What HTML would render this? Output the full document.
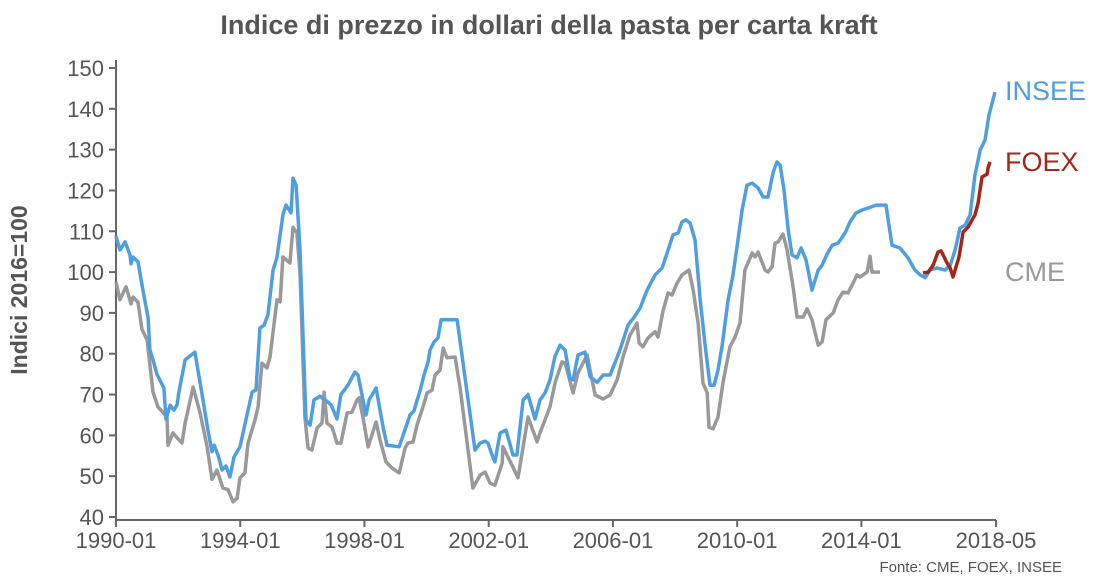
<!DOCTYPE html>
<html><head><meta charset="utf-8">
<style>
html,body{margin:0;padding:0;background:#fff;}
svg{display:block;font-family:"Liberation Sans",sans-serif;}
</style></head>
<body>
<svg id="chart" width="1099" height="586" viewBox="0 0 1099 586" xmlns="http://www.w3.org/2000/svg">
<text x="549" y="34" text-anchor="middle" font-size="27" font-weight="bold" fill="#555">Indice di prezzo in dollari della pasta per carta kraft</text>
<text transform="translate(27,290) rotate(-90)" text-anchor="middle" font-size="23" font-weight="bold" fill="#555">Indici 2016=100</text>
<text x="1062" y="572" text-anchor="end" font-size="15" fill="#555">Fonte: CME, FOEX, INSEE</text>
<g id="axes"></g>
<g id="series"></g>
<text x="1005" y="100" font-size="27" fill="#4f9fe0">INSEE</text>
<text x="1005" y="171" font-size="27" fill="#a02818">FOEX</text>
<text x="1005" y="281" font-size="27" fill="#999">CME</text>
</svg>
<script>
// months since 1990-01
const inseeMonths=[0,1.5,3.5,5.4,5.8,6.6,8.5,10.4,12.4,13.1,14.3,15.8,18.5,19.3,20.9,22.4,23.6,24.3,26.7,30.5,33.6,35.5,37.1,37.9,39.4,41.0,42.5,44.0,45.6,47.9,50.2,52.6,54.1,55.6,57.2,58.7,60.7,62.2,64.5,65.7,67.6,68.4,69.6,71.1,73.4,75.0,76.5,78.8,80.8,83.1,85.4,86.9,89.6,92.3,93.5,96.6,97.8,100.5,103.2,104.7,109.4,113.6,115.1,117.5,119.0,120.6,121.3,122.9,124.4,125.6,131.8,138.7,140.7,142.6,143.7,145.7,146.4,148.4,150.7,153.4,154.9,157.3,159.2,161.9,163.8,165.8,167.7,169.6,171.6,173.5,175.4,176.6,178.5,181.2,183.2,185.9,188.2,190.9,194.7,197.8,200.2,202.5,205.2,208.3,211.0,213.3,215.2,217.2,218.7,220.2,221.8,223.7,225.7,227.6,229.5,231.1,232.6,234.2,236.5,238.4,240.3,241.9,243.8,245.8,248.1,250.0,251.9,253.9,255.4,256.6,258.1,259.7,261.2,263.1,264.7,266.6,268.9,271.3,272.8,274.7,276.7,279.0,281.7,283.6,285.9,288.3,290.6,293.7,297.5,299.8,302.9,306.0,308.7,310.7,312.6,314.5,317.2,320.3,322.3,324.2,326.1,328.1,330.0,331.9,333.9,335.8,337.3,339.6];
const inseeValues=[108.8,105.4,107.4,104.2,102,103.7,102.5,95.6,88.8,81,78.5,75,71.6,64,67.4,66.2,67.5,70.6,78.5,80.4,68.7,61.3,56,57.6,55.2,51.5,52.5,49.8,54.7,57.2,63.8,70.6,71.1,86.3,87,89.5,100.5,103.7,114,116.4,114.5,123,121.3,105.4,63.8,62.5,68.7,69.6,68.7,67.5,64,70,72.3,75.5,74.8,65,68.7,71.6,62,57.6,57.2,65,66,71,74.8,78,80.9,82.9,83.9,88.3,88.3,56.4,58.1,58.6,58.1,54.5,53.5,60.6,61.3,55.2,55.2,68.7,70,64,68.7,70.4,73.6,79.4,82.1,80.9,74,73.6,79.7,80.4,74.3,73,74.8,74.8,80.9,87,89,91.2,95.6,99.3,101,105.4,109.1,109.6,112.3,112.8,112,107.9,93.2,82.1,72.3,72.3,76,82.1,93.2,99.3,107.9,115.2,121.3,121.8,120.6,118.4,118.4,124.5,127,126.2,120.1,110.3,104.2,103.5,105.9,103,95.6,100.5,101.7,104.4,106.6,107.1,109.6,112.3,114.5,115.2,115.7,116.4,116.4,106.6,105.9,103.5,100.5,99.3,98.6,100.5,101,100.5,101.7,105.4,110.8,111.5,114,123.8,129.9,132.4,138.5,144.1];
const cmeMonths=[0,1.5,3.9,5.8,6.6,8.5,10.0,12.0,14.3,16.2,19.7,20.1,22.0,23.6,25.5,26.7,29.8,32.5,35.2,37.1,39.0,41.3,43.3,45.2,46.8,47.9,49.8,51.0,53.7,54.9,56.4,58.3,59.5,62.2,63.4,64.5,67.2,68.4,69.9,71.1,73.0,74.2,75.7,77.7,79.6,80.4,81.5,83.5,85.4,86.9,89.3,91.2,93.1,93.9,95.4,97.4,100.5,102.0,104.3,106.6,109.4,111.7,112.8,114.8,116.3,118.6,120.2,122.1,123.3,125.2,126.4,127.9,131.0,132.9,137.9,140.7,142.6,144.5,146.4,149.2,149.5,153.0,155.3,159.2,162.7,163.8,167.7,169.6,172.3,173.5,176.6,178.5,182.0,185.1,188.2,190.9,193.6,195.9,198.6,201.3,202.1,203.6,205.6,208.3,209.4,211.4,213.3,214.8,216.8,218.7,221.4,223.0,224.9,226.8,228.4,229.1,230.7,232.6,234.5,237.2,239.2,241.1,243.0,245.8,246.9,248.1,250.8,251.9,253.5,254.6,255.8,257.7,259.3,261.6,263.1,265.5,267.0,268.9,271.3,272.8,274.3,277.1,279.0,280.9,282.8,284.8,286.3,287.5,290.2,291.3,292.1,295.2];
const cmeValues=[97.6,93.2,96.4,92.2,93.9,92.6,86,83.4,70.6,67,64.5,57.6,60.6,59.4,58.1,63,71.8,65.5,57.2,49.2,51.5,47.1,46.7,43.7,44.6,49.6,50.8,58.1,63.8,67,77.7,76.5,79.2,93.2,92.7,103.7,102.2,111,109.6,99.8,64.5,56.9,56.4,61.8,63,70.6,63,62,58.1,58.1,65.5,65.7,68.7,69.2,64.5,57.2,63.3,58.9,53.5,52,50.8,56.9,58.1,58.4,62.5,67,70.4,71.1,74.8,76,81.4,79,79.2,71.8,47.1,50.3,51,48.3,47.8,53.2,57.2,52.7,49.6,64.5,58.4,60.6,67,72.8,78,77.7,70.4,75.3,79.7,69.9,68.9,69.9,73.6,79.2,84.6,87.5,82.6,81.7,83.9,85.4,84.1,90.7,94.9,94.4,97.3,99.3,100.5,95.6,87.5,72.8,70.4,62,61.6,64.5,72.8,81.7,84.1,87.5,100.5,104.7,103.7,104.9,100.5,100,101.3,107.1,107.4,109.3,105.4,96.4,89,89,91,88.3,82.1,82.9,88.3,90,93.2,95.1,94.9,97.3,99.3,98.8,100,103.9,100,100];
const foexMonths=[311.8,313.8,315.7,317.6,318.8,321.1,322.3,323.4,325.7,327.3,329.2,330.8,331.9,333.1,334.6,336.6,336.9,337.7];
const foexValues=[99.8,100,101.7,104.9,105.2,102.2,101,98.8,103.7,109.8,111,112.8,114,116.9,123.3,124,125.5,127];
const xTickMonths=[0,48,96,144,192,240,288,340];
const xTickLabels=["1990-01","1994-01","1998-01","2002-01","2006-01","2010-01","2014-01","2018-05"];
const yTicks=[40,50,60,70,80,90,100,110,120,130,140,150];

const NS="http://www.w3.org/2000/svg";
const X0=116,X1=996,Y0=517,Y1=68;
function xs(m){return X0+m*(X1-X0)/340;}
function ys(v){return Y0-(v-40)*(Y0-Y1)/110;}
function mk(tag,attrs,parent){const e=document.createElementNS(NS,tag);for(const k in attrs)e.setAttribute(k,attrs[k]);parent.appendChild(e);return e;}
const axes=document.getElementById('axes');
let yl=mk('line',{x1:X0,y1:60,x2:X0,y2:520,stroke:'#666','stroke-width':2},axes);


let xl=mk('line',{x1:X0-1,y1:520,x2:X1,y2:520,stroke:'#666','stroke-width':2},axes);


yTicks.forEach(v=>{
  const t=mk('line',{x1:X0-7,y1:ys(v),x2:X0,y2:ys(v),stroke:'#666','stroke-width':2},axes);
  
  
  const l=mk('text',{x:X0-12,y:ys(v)+8,'text-anchor':'end','font-size':22,fill:'#555'},axes);
  
  
  l.textContent=v;
});
xTickMonths.forEach((m,i)=>{
  const t=mk('line',{x1:xs(m),y1:520,x2:xs(m),y2:527,stroke:'#666','stroke-width':2},axes);
  
  
  const l=mk('text',{x:xs(m),y:548,'text-anchor':'middle','font-size':22,fill:'#555'},axes);
  
  
  l.textContent=xTickLabels[i];
});
const ser=document.getElementById('series');
function line(ms,vs,color,name){
  const d=ms.map((m,i)=>(i?'L':'M')+xs(m).toFixed(1)+','+ys(vs[i]).toFixed(1)).join('');
  const p=mk('path',{d:d,fill:'none',stroke:color,'stroke-width':3.5,'stroke-linejoin':'round'},ser);
  
  
}
line(cmeMonths,cmeValues,'#999','cme-line');
line(inseeMonths,inseeValues,'#4f9fe0','insee-line');
line(foexMonths,foexValues,'#a02818','foex-line');
</script>
</body></html>
